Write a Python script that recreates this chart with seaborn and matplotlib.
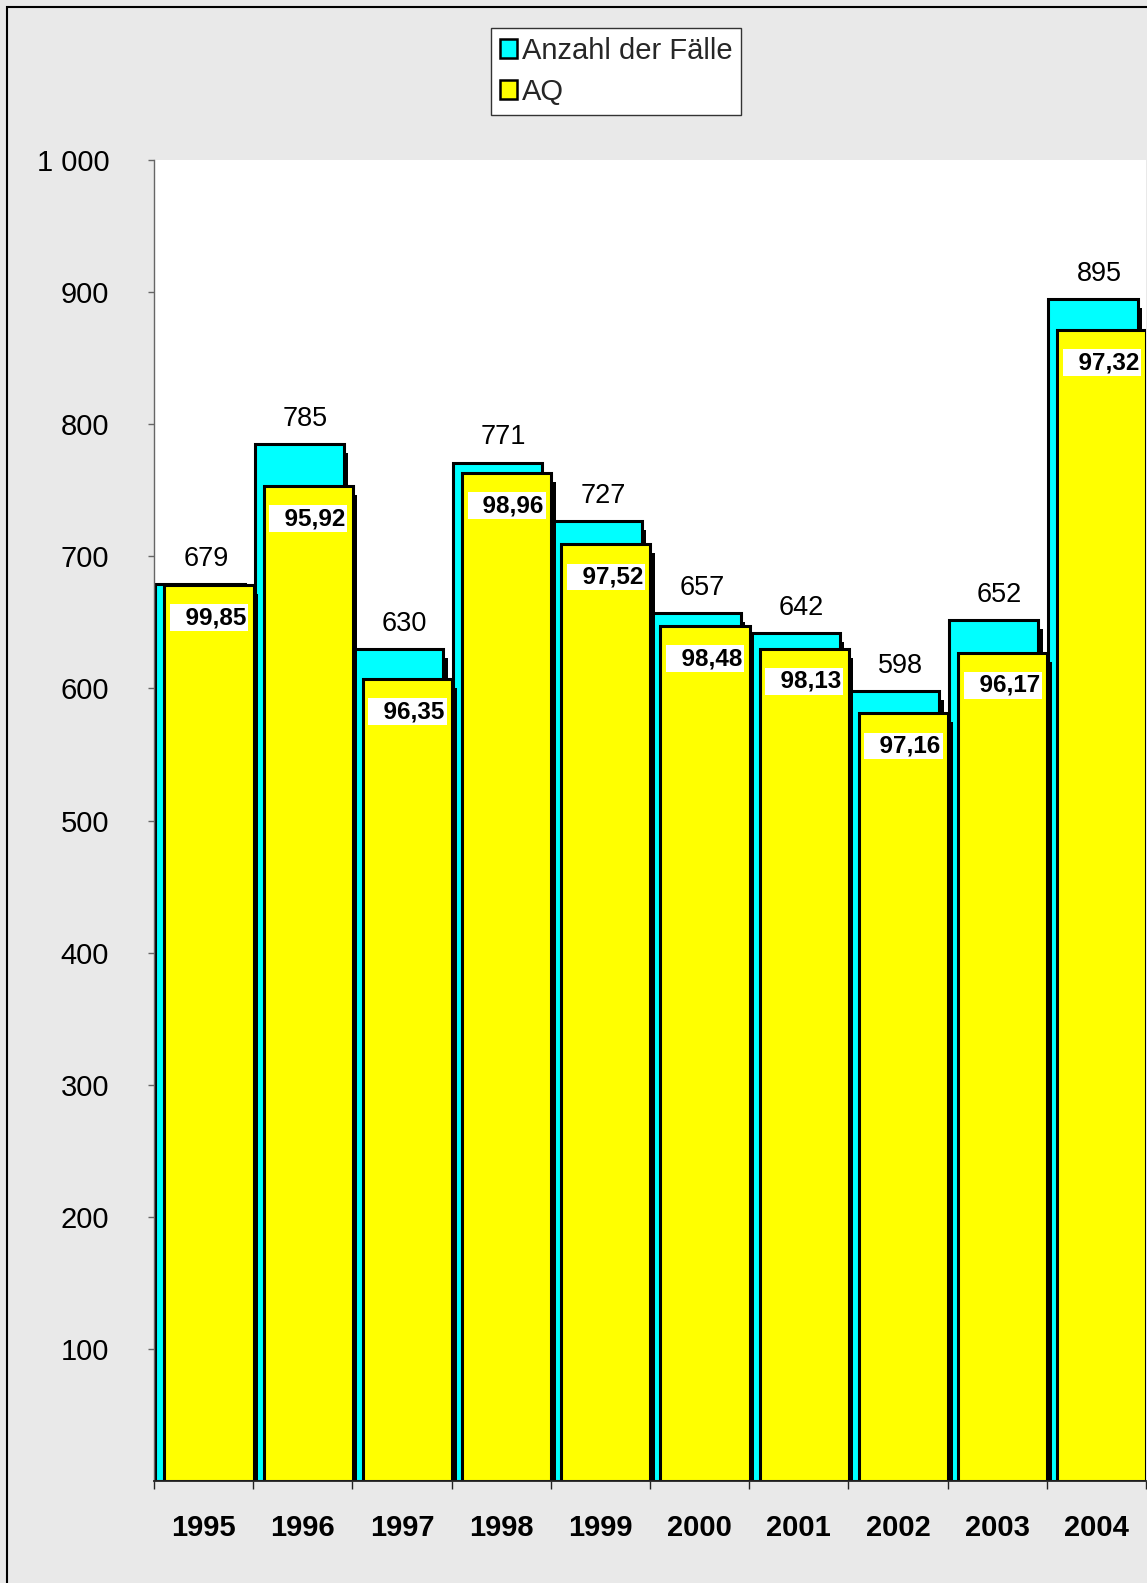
import numpy as np
import pandas as pd
import matplotlib
matplotlib.use("Agg")
import matplotlib.pyplot as plt
import matplotlib.transforms as mtransforms
from matplotlib.patches import Patch, Rectangle
from matplotlib.ticker import FuncFormatter, FixedLocator
import seaborn as sns

# ---- data ----
jahre = ["1995", "1996", "1997", "1998", "1999", "2000", "2001", "2002", "2003", "2004"]
faelle = [679, 785, 630, 771, 727, 657, 642, 598, 652, 895]
aq = [99.85, 95.92, 96.35, 98.96, 97.52, 98.48, 98.13, 97.16, 96.17, 97.32]
yticks = [100, 200, 300, 400, 500, 600, 700, 800, 900, 1000]

df = pd.DataFrame({"Jahr": jahre, "Faelle": faelle, "AQ": aq})
df["pos"] = np.arange(len(df))
df["AQ_hoehe"] = df["Faelle"] * df["AQ"] / 100.0

# ---- style ----
sns.set_theme(style="white")
plt.rcParams["font.family"] = ["Liberation Sans", "DejaVu Sans"]

CYAN = "#00FFFF"
YELLOW = "#FFFF00"
BG = "#e9e9e9"
W = 0.9
CYAN_SHIFT = -0.035
YELLOW_SHIFT = 0.055

fig = plt.figure(figsize=(11.47, 15.83), dpi=100, facecolor=BG)
ax = fig.add_axes([154 / 1147, (1583 - 1481) / 1583, (1146 - 154) / 1147, (1481 - 160) / 1583])
ax.set_facecolor("white")

shadow_tf = ax.transData + mtransforms.ScaledTranslation(4.5 / 100, -9 / 100, fig.dpi_scale_trans)


def draw(series_col, shift, color, z):
    # shadow
    n0 = len(ax.patches)
    sns.barplot(x=df["pos"] + shift, y=df[series_col], native_scale=True, width=W,
                color="black", saturation=1, errorbar=None, linewidth=0,
                ax=ax, zorder=z)
    for p in ax.patches[n0:]:
        p.set_transform(shadow_tf)
    # bar
    sns.barplot(x=df["pos"] + shift, y=df[series_col], native_scale=True, width=W,
                color=color, saturation=1, errorbar=None, edgecolor="black",
                linewidth=2.2, ax=ax, zorder=z + 1)


draw("Faelle", CYAN_SHIFT, CYAN, 2)
draw("AQ_hoehe", YELLOW_SHIFT, YELLOW, 4)

# value labels
for i, row in df.iterrows():
    ax.annotate(f"{row['Faelle']:d}", xy=(row["pos"] + 0.025, row["Faelle"]),
                xytext=(0, 13), textcoords="offset points", ha="center",
                va="baseline", fontsize=19.5, color="black", zorder=10)
    txt = "  " + f"{row['AQ']:.2f}".replace(".", ",")
    ax.annotate(txt, xy=(row["pos"] + YELLOW_SHIFT, row["AQ_hoehe"]),
                xytext=(0, -23.4), textcoords="offset points", ha="center",
                va="center", fontsize=17.5, fontweight="bold", color="black",
                bbox=dict(boxstyle="square,pad=0.08", fc="white", ec="none"),
                zorder=10)

# axes
ax.set_xlim(-0.5, len(df) - 0.5)
ax.set_ylim(0, 1000)
ax.set_xlabel("")
ax.set_ylabel("")
ax.set_yticks(yticks)
ax.yaxis.set_major_formatter(FuncFormatter(lambda v, p: f"{v:,.0f}".replace(",", " ")))
ax.set_xticks(df["pos"])
ax.set_xticklabels(jahre, fontweight="bold", fontsize=21)
ax.xaxis.set_minor_locator(FixedLocator(np.arange(len(df) + 1) - 0.5))

for s in ["top", "right"]:
    ax.spines[s].set_visible(False)
ax.spines["left"].set_color("#666666")
ax.spines["left"].set_linewidth(1.0)
ax.spines["bottom"].set_color("#222222")
ax.spines["bottom"].set_linewidth(1.3)
ax.spines["left"].set_zorder(20)
ax.spines["bottom"].set_zorder(20)

ax.tick_params(axis="y", which="major", direction="out", length=4.3, width=1,
               color="#666666", labelsize=21, pad=28, labelcolor="black", left=True)
ax.tick_params(axis="x", which="major", length=0, pad=23.5, labelcolor="black", bottom=True)
ax.tick_params(axis="x", which="minor", direction="out", length=6, width=1,
               color="#222222", bottom=True)

# legend
handles = [Patch(facecolor=CYAN, edgecolor="black", linewidth=1.8, label="Anzahl der Fälle"),
           Patch(facecolor=YELLOW, edgecolor="black", linewidth=1.8, label="AQ")]
leg = fig.legend(handles=handles, loc="upper left",
                 bbox_to_anchor=(491 / 1147, 1 - 28 / 1583), bbox_transform=fig.transFigure,
                 fontsize=21, frameon=True, fancybox=False, framealpha=1,
                 edgecolor="#333333", facecolor="white", borderpad=0.3,
                 handlelength=0.6, handleheight=0.6, handletextpad=0.15,
                 labelspacing=0.45, borderaxespad=0)
leg.get_frame().set_linewidth(1.0)

# figure border (left and top visible)
fig.patches.append(Rectangle((7 / 1147, -0.1), 1.2, 1.1 - 7 / 1583, transform=fig.transFigure,
                             fill=False, edgecolor="black", linewidth=1.5, zorder=0))

fig.savefig("out.png", dpi=100, facecolor=BG)
